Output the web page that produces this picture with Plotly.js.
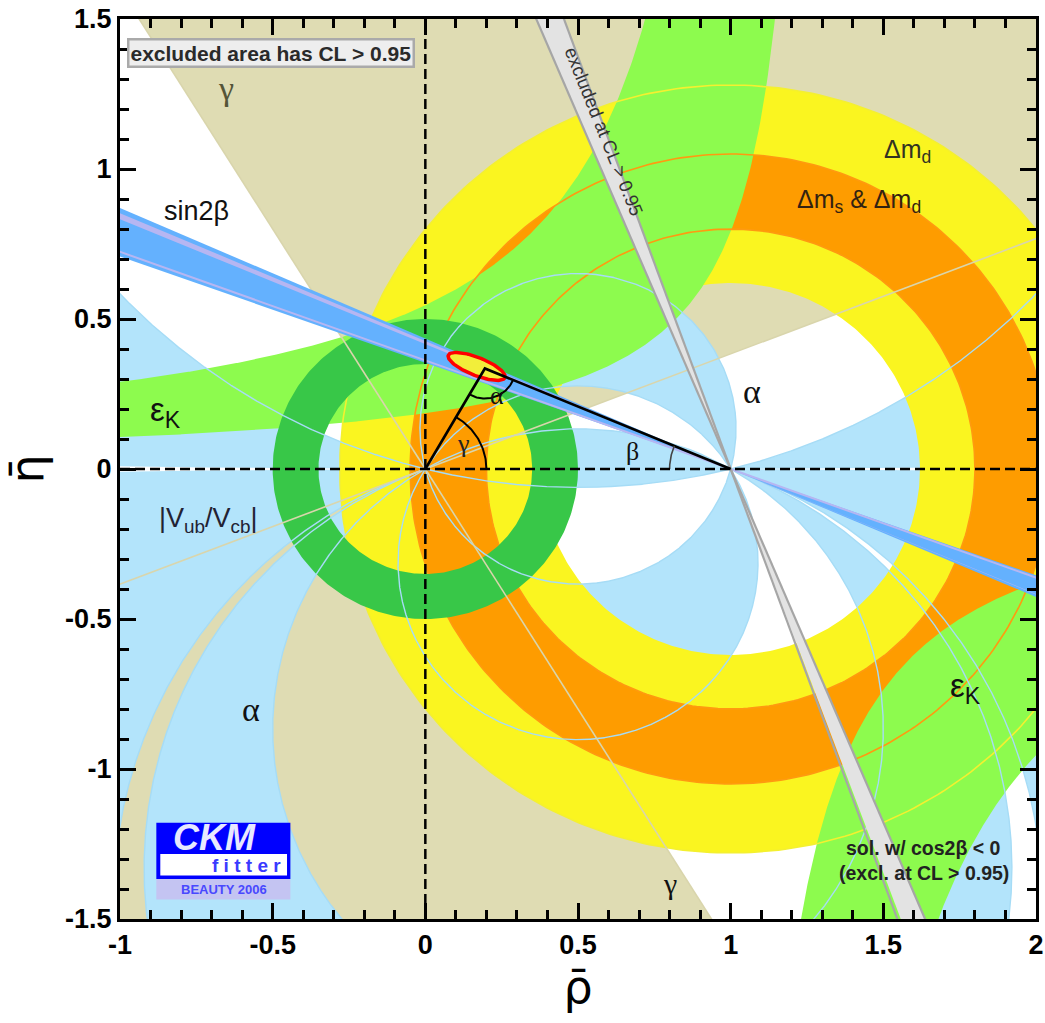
<!DOCTYPE html>
<html><head><meta charset="utf-8">
<script src="https://cdn.plot.ly/plotly-3.0.1.min.js"></script>
<style>html,body{margin:0;padding:0;background:#fff;}#chart{width:1045px;height:1023px;}</style>
</head><body><div id="chart"></div>
<script>
// ---------- constraint values ----------
const gammaWedgesDeg = [[21, 122], [201, 302]];                 // allowed gamma, angle at (0,0)
const alphaUpperDeg  = [[0, 14], [75, 122], [150, 180]];        // allowed alpha, eta > 0
const alphaLowerDeg  = [[0, 14], [75, 122], [150, 159.4], [160.8, 180]]; // allowed alpha (mod 180), eta < 0
const dmdRadii  = [0.62, 1.28];     // Δm_d ring around (1,0)
const dmsRadii  = [0.80, 1.05];     // Δm_s & Δm_d ring around (1,0)
const vubRadii  = [0.35, 0.50];     // |Vub/Vcb| ring around (0,0)
const sin2bDeg  = [19.5, 23.5];     // beta band from (1,0)
const sin2bInnerDeg = [22.6, 23.1];
const sin2bLineDeg = [19.9];
const cos2bNegDeg = [67, 70];       // excluded cos2β<0 solution
const epsKUpper = [[0.243, 1.307], [0.618, 1.132]];   // edges eta = k/(c - rho)
const epsKLower = [[0.39, 0.97], [0.837, 1.122]];
const apex = [0.195, 0.335];
const fitCenter = [0.168, 0.342], fitAxes = [0.100, 0.030], fitTiltDeg = -22;
const tickVals = [-1.5, -1, -0.5, 0, 0.5, 1, 1.5, 2];
const tickText = ['-1.5', '-1', '-0.5', '0', '0.5', '1', '1.5', '2'];

// ---------- geometry helpers ----------
const D = Math.PI / 180;
const traces = [];
function poly(pts, color) {
  traces.push({type:'scatter', mode:'lines', x:pts.map(p=>p[0]), y:pts.map(p=>p[1]),
    fill:'toself', fillcolor:color, line:{width:0, color:color}, hoverinfo:'skip'});
}
function line(pts, color, width, dash) {
  traces.push({type:'scatter', mode:'lines', x:pts.map(p=>p[0]), y:pts.map(p=>p[1]),
    line:{color:color, width:width, dash:dash||'solid'}, hoverinfo:'skip'});
}
function circlePts(cx, cy, r, a0, a1, n) {
  const p = [];
  for (let i = 0; i <= n; i++) { const t = (a0 + (a1 - a0) * i / n) * D; p.push([cx + r*Math.cos(t), cy + r*Math.sin(t)]); }
  return p;
}
function ring(cx, cy, r1, r2) {
  return circlePts(cx, cy, r2, 0, 360, 360).concat(circlePts(cx, cy, r1, 360, 0, 360));
}
function wedge(px, py, a0, a1) {
  return [[px, py]].concat(circlePts(px, py, 12, a0, a1, 80));
}
function ray2(b) { // full line through (1,0) at angle 180-b
  return [[1 + 12*Math.cos((180-b)*D), 12*Math.sin((180-b)*D)], [1 + 12*Math.cos(-b*D), 12*Math.sin(-b*D)]];
}
// arc where the angle O-P-A equals u (deg), upper half plane, from A to O
function alphaArc(u) {
  if (u >= 179.999) return [[1, 0], [0, 0]];
  u = Math.max(u, 0.25);
  const cy = 0.5 / Math.tan(u*D), R = 0.5 / Math.sin(u*D);
  const tA = Math.atan2(-cy, 0.5), tO = Math.PI - tA, n = 3000, p = [];
  for (let i = 0; i <= n; i++) { const t = tA + (tO - tA) * i / n; p.push([0.5 + R*Math.cos(t), cy + R*Math.sin(t)]); }
  return p;
}
function alphaRegion(u1, u2, lower) {
  const pts = alphaArc(u1).concat(alphaArc(u2).reverse());
  return lower ? pts.map(p => [p[0], -p[1]]) : pts;
}
function hyper(k, c, r0, r1) {
  const p = [], n = 600;
  for (let i = 0; i <= n; i++) { const r = r0 + (r1 - r0) * i / n; p.push([r, k / (c - r)]); }
  return p;
}

const C = {tan:'#dfdcb3', lblue:'#b3e4fb', yellow:'#faf520', orange:'#fe9c00', lgreen:'#8dfb4e',
  green:'#38c748', blue:'#64b1fe', lav:'#b6b6f2', gray:'#e3e3e3', grayEdge:'#a6a6a6'};

// gamma
gammaWedgesDeg.forEach(w => poly(wedge(0, 0, w[0], w[1]), C.tan));
// alpha
alphaUpperDeg.forEach(a => poly(alphaRegion(a[0], a[1], false), C.lblue));
alphaLowerDeg.forEach(a => poly(alphaRegion(180 - a[1], 180 - a[0], true), C.lblue));
// Δm_d and Δm_s
poly(ring(1, 0, dmdRadii[0], dmdRadii[1]), C.yellow);
poly(ring(1, 0, dmsRadii[0], dmsRadii[1]), C.orange);
// epsilon_K
(function(){
  const e1 = epsKUpper[0], e2 = epsKUpper[1];
  const a = hyper(e1[0], e1[1], -1.3, e1[1] - e1[0]/2.5);
  const b = hyper(e2[0], e2[1], -1.3, e2[1] - e2[0]/2.5).reverse();
  poly(a.concat(b), C.lgreen);
  const f1 = epsKLower[0], f2 = epsKLower[1];
  const c = hyper(f1[0], f1[1], f1[1] + f1[0]/2.5, 2.3);
  const d = hyper(f2[0], f2[1], f2[1] + f2[0]/2.5, 2.3).reverse();
  poly(c.concat(d), C.lgreen);
})();
// contour lines of the rings
dmsRadii.forEach(r => line(circlePts(1, 0, r, 0, 360, 360), '#ff9a10', 1.6));
line(circlePts(1, 0, dmdRadii[1], 0, 360, 360), '#f4f030', 1.6);
// |Vub/Vcb|
poly(ring(0, 0, vubRadii[0], vubRadii[1]), C.green);
// alpha and gamma boundary lines
alphaUpperDeg.forEach(a => a.forEach(u => { if (u > 0 && u < 180) line(alphaArc(u), '#a6dcf6', 1.4); }));
alphaLowerDeg.forEach(a => a.forEach(u => { if (u > 0 && u < 180) line(alphaArc(180 - u).map(p => [p[0], -p[1]]), '#a6dcf6', 1.4); }));
gammaWedgesDeg.forEach(w => w.forEach(g => line([[0,0], [12*Math.cos(g*D), 12*Math.sin(g*D)]], '#d9d5ac', 1.6)));
// sin2β
poly(wedge(1, 0, 180 - sin2bDeg[1], 180 - sin2bDeg[0]), C.blue);
poly(wedge(1, 0, -sin2bDeg[1], -sin2bDeg[0]), C.blue);
poly(wedge(1, 0, 180 - sin2bInnerDeg[1], 180 - sin2bInnerDeg[0]), C.lav);
poly(wedge(1, 0, -sin2bInnerDeg[1], -sin2bInnerDeg[0]), C.lav);
sin2bLineDeg.forEach(b => line(ray2(b), C.lav, 2));
// excluded second solution band
poly(wedge(1, 0, 180 - cos2bNegDeg[1], 180 - cos2bNegDeg[0]), C.gray);
poly(wedge(1, 0, -cos2bNegDeg[1], -cos2bNegDeg[0]), C.gray);
cos2bNegDeg.forEach(b => line(ray2(b), C.grayEdge, 2.2));
// fitted region
(function(){
  const p = [], ph = fitTiltDeg * D;
  for (let i = 0; i <= 120; i++) { const t = i/120*2*Math.PI;
    const ex = fitAxes[0]*Math.cos(t), ey = fitAxes[1]*Math.sin(t);
    p.push([fitCenter[0] + ex*Math.cos(ph) - ey*Math.sin(ph), fitCenter[1] + ex*Math.sin(ph) + ey*Math.cos(ph)]); }
  traces.push({type:'scatter', mode:'lines', x:p.map(q=>q[0]), y:p.map(q=>q[1]), fill:'toself',
    fillcolor:'#f2ee3a', line:{color:'#ff0000', width:3.5}, hoverinfo:'skip'});
})();
// unitarity triangle and angles
line([[0,0], apex, [1,0]], '#000', 2.6);
line(circlePts(0, 0, 0.2, 0, Math.atan2(apex[1], apex[0])/D, 40), '#000', 2);
line(circlePts(apex[0], apex[1], 0.1, Math.atan2(-apex[1], -apex[0])/D + 360, Math.atan2(-apex[1], 1-apex[0])/D + 360, 40), '#000', 2);
line(circlePts(1, 0, 0.2, 180 - Math.atan2(apex[1], 1-apex[0])/D, 180, 30), '#444', 1.6);

const fSans = 'Liberation Sans, Arial, sans-serif';
const fSerif = 'Liberation Serif, DejaVu Serif, serif';
function ann(x, y, text, size, color, extra) {
  return Object.assign({x:x, y:y, xref:'x', yref:'y', text:text, showarrow:false,
    font:{family:fSans, size:size, color:color}}, extra||{});
}
function serif(x, y, text, size, color) {
  return ann(x, y, text, size, color, {font:{family:fSerif, size:size, color:color}});
}
const annotations = [
  ann(-0.977, 1.437, '<b>excluded area has CL &gt; 0.95</b>', 21, '#2a2a2a',
      {xanchor:'left', yanchor:'top', bgcolor:'#eeeeee', bordercolor:'#aaaaaa', borderwidth:2.5, borderpad:1}),
  serif(-0.652, 1.27, 'γ', 34, '#555538'),
  ann(-0.75, 0.86, 'sin2β', 27, '#111'),
  ann(-0.85, 0.19, 'ε<sub>K</sub>', 33, '#111'),
  ann(-0.71, -0.17, '|V<sub>ub</sub>/V<sub>cb</sub>|', 27, '#223'),
  serif(-0.57, -0.80, 'α', 34, '#111'),
  serif(0.80, -1.38, 'γ', 30, '#111'),
  serif(1.07, 0.26, 'α', 34, '#111'),
  serif(0.125, 0.085, 'γ', 26, '#222'),
  serif(0.235, 0.245, 'α', 26, '#111'),
  serif(0.68, 0.06, 'β', 26, '#111'),
  ann(1.58, 1.06, 'Δm<sub>d</sub>', 25, '#332'),
  ann(1.42, 0.895, 'Δm<sub>s</sub> &amp; Δm<sub>d</sub>', 25, '#321'),
  ann(1.77, -0.73, 'ε<sub>K</sub>', 33, '#111'),
  ann(1.632, -1.262, '<b>sol. w/ cos2β &lt; 0</b>', 19.5, '#222'),
  ann(1.632, -1.345, '<b>(excl. at CL &gt; 0.95)</b>', 19.5, '#222'),
  ann(0.585, 1.125, 'excluded at CL &gt; 0.95', 18.5, '#333', {textangle:68}),
  ann(-0.69, -1.228, '<b><i>CKM</i></b>', 36, '#e8e8ff'),
  ann(-0.585, -1.321, '<b>f i t t e r</b>', 19, '#3a3aff'),
  ann(-0.66, -1.40, '<b>BEAUTY 2006</b>', 13, '#4848ff')
];
const shapes = [
  {type:'line', xref:'x', yref:'y', x0:0, x1:0, y0:-1.5, y1:1.5, line:{color:'#000', width:2.5, dash:'10px,5px'}, layer:'above'},
  {type:'line', xref:'x', yref:'y', x0:-1, x1:2, y0:0, y1:0, line:{color:'#000', width:2.5, dash:'10px,5px'}, layer:'above'},
  {type:'rect', xref:'x', yref:'y', x0:-0.881, x1:-0.442, y0:-1.367, y1:-1.179, fillcolor:'#0000ff', line:{width:0}, layer:'above'},
  {type:'rect', xref:'x', yref:'y', x0:-0.868, x1:-0.453, y0:-1.355, y1:-1.283, fillcolor:'#ffffff', line:{width:0}, layer:'above'},
  {type:'rect', xref:'x', yref:'y', x0:-0.881, x1:-0.442, y0:-1.435, y1:-1.367, fillcolor:'#c4c4f2', line:{width:0}, layer:'above'}
];
const axisFont = {family:'Liberation Sans Narrow, Liberation Sans, Arial', size:27, color:'#000', weight:'bold'};
const baseAxis = {tickmode:'array', tickvals:tickVals, ticktext:tickText, ticks:'inside', ticklen:16, tickwidth:3,
  tickcolor:'#000', showline:true, linewidth:3, linecolor:'#000', mirror:'allticks', showgrid:false, zeroline:false,
  tickfont:axisFont, minor:{dtick:0.1, tick0:0, ticks:'inside', ticklen:9, tickwidth:3, tickcolor:'#000', showgrid:false}};
const layout = {
  width:1045, height:1023, margin:{l:120, r:9, t:19, b:104}, paper_bgcolor:'#ffffff', plot_bgcolor:'#ffffff',
  showlegend:false, hovermode:false,
  xaxis:Object.assign({}, baseAxis, {range:[-1, 2], title:{text:'ρ̄', font:{family:'DejaVu Sans', size:46, color:'#000'}, standoff:6}}),
  yaxis:Object.assign({}, baseAxis, {range:[-1.5, 1.5], title:{text:'η̄', font:{family:'DejaVu Sans', size:46, color:'#000'}, standoff:8}}),
  annotations:annotations, shapes:shapes
};
Plotly.newPlot('chart', traces, layout, {staticPlot:true, displayModeBar:false});
</script></body></html>
